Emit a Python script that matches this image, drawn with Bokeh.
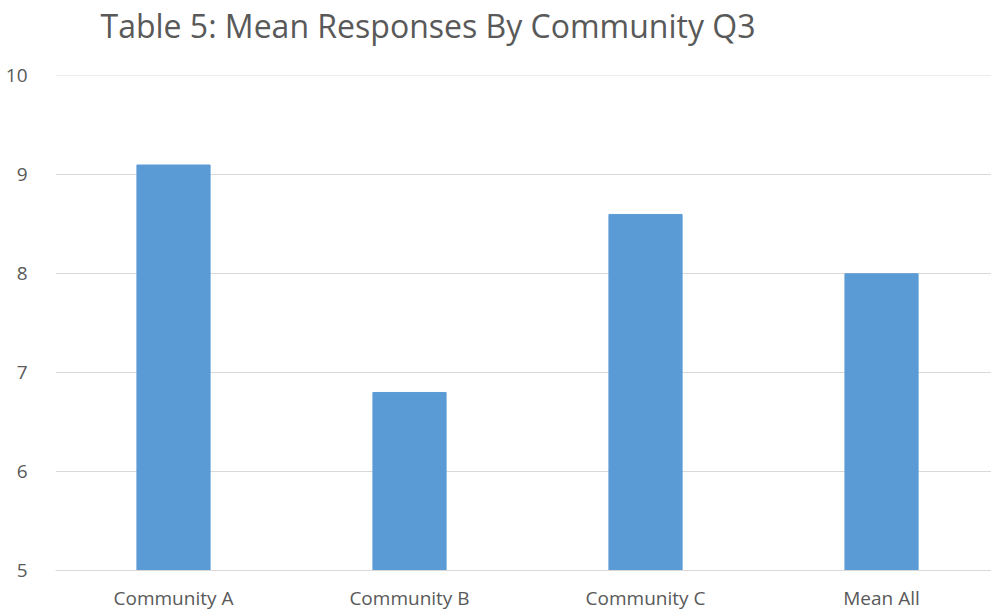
from bokeh.plotting import figure
from bokeh.models import Range1d, FixedTicker, Title, ColumnDataSource
from bokeh.embed import file_html
from bokeh.resources import INLINE

categories = ["Community A", "Community B", "Community C", "Mean All"]
values = [9.1, 6.8, 8.6, 8.0]
y_ticks = [5, 6, 7, 8, 9, 10]
title_text = "Table 5: Mean Responses By Community Q3"

xs = [i + 0.5 for i in range(len(categories))]
src = ColumnDataSource(dict(x=xs, top=values, bottom=[5] * len(values)))

p = figure(width=991, height=613, output_backend="svg", toolbar_location=None,
           x_range=Range1d(0, 3.966), y_range=Range1d(5, 10.005),
           min_border_left=55, min_border_right=0, min_border_top=0, min_border_bottom=42)
p.title = Title(text=title_text, align="left", offset=45, vertical_align="top",
                text_font="Open Sans", text_font_size="32px", text_font_style="normal",
                text_color="#595959", standoff=6)
p.add_layout(Title(text=" ", text_font_size="19.5px", standoff=0), "above")
p.outline_line_color = None
p.background_fill_color = "white"
p.border_fill_color = "white"

p.vbar(x="x", top="top", bottom="bottom", width=0.31, source=src, color="#5B9BD5")

p.xaxis.ticker = FixedTicker(ticks=xs)
p.xaxis.major_label_overrides = {x: c for x, c in zip(xs, categories)}
p.xaxis.major_tick_line_color = None
p.xaxis.minor_tick_line_color = None
p.xaxis.axis_line_color = "#d9d9d9"
p.xaxis.major_label_text_font = "Open Sans"
p.xaxis.major_label_text_font_size = "19px"
p.xaxis.major_label_text_color = "#595959"
p.xaxis.major_label_standoff = 8

p.yaxis.ticker = FixedTicker(ticks=y_ticks)
p.yaxis.axis_line_color = None
p.yaxis.major_tick_line_color = None
p.yaxis.minor_tick_line_color = None
p.yaxis.major_label_text_font = "Open Sans"
p.yaxis.major_label_text_font_size = "19px"
p.yaxis.major_label_text_color = "#595959"
p.yaxis.major_label_standoff = 22

p.xgrid.grid_line_color = None
p.ygrid.grid_line_color = "#d9d9d9"
p.ygrid.ticker = FixedTicker(ticks=y_ticks)

open("out.html", "w").write(file_html(p, INLINE))
